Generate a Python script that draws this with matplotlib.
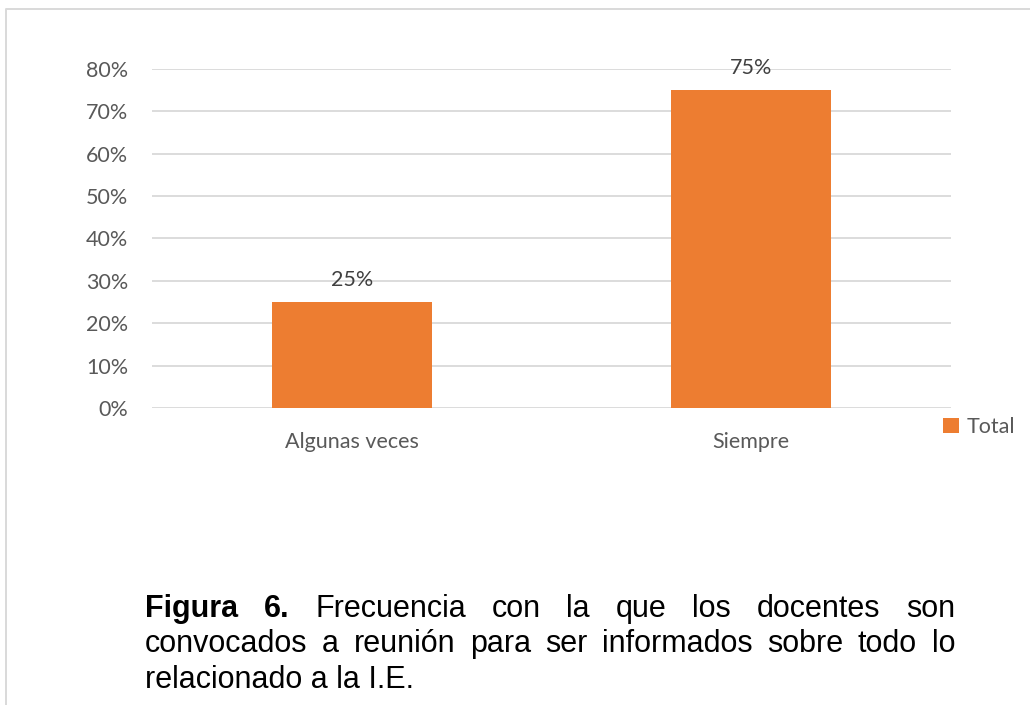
import matplotlib.pyplot as plt
from matplotlib.lines import Line2D

# Datos del gráfico
categorias = ['Algunas veces', 'Siempre']
valores = [0.25, 0.75]
serie = 'Total'
marcas_y = [0, 0.1, 0.2, 0.3, 0.4, 0.5, 0.6, 0.7, 0.8]

# Texto de la figura (líneas justificadas)
lineas_pie = [
    [('Figura', 'bold'), ('6.', 'bold'), ('Frecuencia', 'normal'), ('con', 'normal'),
     ('la', 'normal'), ('que', 'normal'), ('los', 'normal'), ('docentes', 'normal'),
     ('son', 'normal')],
    [('convocados', 'normal'), ('a', 'normal'), ('reunión', 'normal'), ('para', 'normal'),
     ('ser', 'normal'), ('informados', 'normal'), ('sobre', 'normal'), ('todo', 'normal'),
     ('lo', 'normal')],
]
ultima_linea = 'relacionado a la I.E.'

W, H = 1030, 705
naranja = '#ED7D31'
gris_texto = '#595959'
gris_linea = '#D9D9D9'
fuente = 'Lato'

fig = plt.figure(figsize=(W / 100, H / 100), dpi=100)
fig.patch.set_facecolor('white')

# Marco del área del gráfico
fig.add_artist(Line2D([6 / W, 6 / W, 1.0], [0.0, 1 - 9 / H, 1 - 9 / H],
                      transform=fig.transFigure, color=gris_linea, lw=1.4))

ax = fig.add_axes([152 / W, 1 - 408 / H, (951 - 152) / W, (408 - 69) / H])
x = range(len(categorias))
barras = ax.bar(x, valores, width=0.4, color=naranja, label=serie, zorder=3)
ax.set_xlim(-0.5, len(categorias) - 0.5)
ax.set_ylim(0, 0.8)
ax.set_yticks(marcas_y)
ax.set_yticklabels([f'{v:.0%}' for v in marcas_y])
ax.set_xticks(list(x))
ax.set_xticklabels(categorias)
ax.grid(axis='y', color=gris_linea, lw=1.3, zorder=0)
for s in ax.spines.values():
    s.set_visible(False)
ax.tick_params(axis='both', length=0, labelsize=15.5, labelcolor=gris_texto)
ax.tick_params(axis='y', pad=17)
ax.tick_params(axis='x', pad=17)
for t in ax.get_xticklabels() + ax.get_yticklabels():
    t.set_fontfamily(fuente)

ax.bar_label(barras, labels=[f'{v:.0%}' for v in valores], padding=9,
             fontsize=15.5, color='#404040', fontfamily=fuente)

leg = fig.legend(loc='center left', bbox_to_anchor=(943 / W, 1 - 427 / H),
                 frameon=False, handlelength=0.75, handleheight=0.75,
                 handletextpad=0.35, borderpad=0, borderaxespad=0,
                 prop={'family': fuente, 'size': 15.5})
for t in leg.get_texts():
    t.set_color(gris_texto)

# Pie de figura justificado
izq, der = 145, 955
bases = [617, 652, 688]
renderer = fig.canvas.get_renderer()
for linea, base in zip(lineas_pie, bases):
    textos = [fig.text(0, 1 - base / H, p, fontsize=22, fontweight=w,
                       family='Liberation Sans', va='baseline', color='black')
              for p, w in linea]
    anchos = [t.get_window_extent(renderer).width for t in textos]
    hueco = (der - izq - sum(anchos)) / (len(textos) - 1)
    pos = izq
    for t, a in zip(textos, anchos):
        t.set_x(pos / W)
        pos += a + hueco
fig.text(izq / W, 1 - bases[2] / H, ultima_linea, fontsize=22,
         family='Liberation Sans', va='baseline', color='black')

fig.savefig('out.png', dpi=100, facecolor='white')
